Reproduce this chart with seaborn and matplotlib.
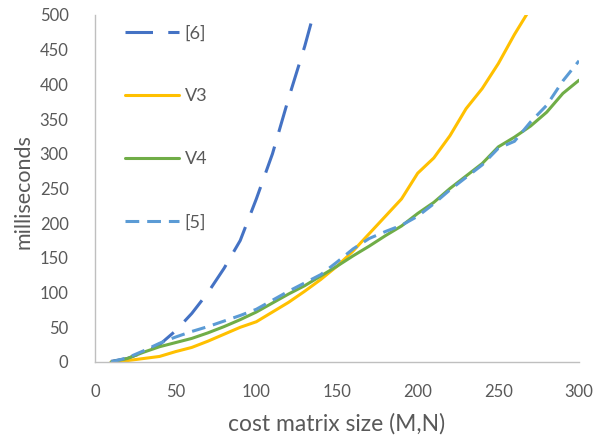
import matplotlib
matplotlib.use("Agg")
import matplotlib.pyplot as plt
import seaborn as sns
import pandas as pd

sizes = list(range(10, 310, 10))

ref6_x = [10, 20, 30, 40, 50, 60, 70, 80, 90, 100, 110, 120, 130, 140]
ref6_y = [1, 5, 14, 25, 45, 70, 100, 135, 175, 235, 300, 380, 455, 540]

v3_x = list(range(10, 280, 10))
v3_y = [0, 2, 5, 8, 15, 21, 30, 40, 50, 58, 72, 86, 102, 119, 138, 160, 185,
        210, 235, 272, 294, 326, 365, 394, 430, 472, 510]

v4_y = [0, 5, 14, 22, 28, 34, 42, 51, 61, 72, 85, 98, 110, 124, 138, 153, 167,
        182, 196, 214, 230, 250, 268, 286, 310, 324, 340, 360, 387, 406]

ref5_y = [0, 6, 16, 27, 36, 44, 51, 59, 67, 76, 89, 102, 114, 126, 144, 163, 178,
          188, 197, 210, 228, 248, 266, 284, 308, 318, 346, 370, 405, 434]

labels = ["[6]", "V3", "V4", "[5]"]
colors = ["#4472C4", "#FFC000", "#70AD47", "#5B9BD5"]

sns.set_style("white")
plt.rcParams["font.family"] = ["Lato", "DejaVu Sans"]

fig = plt.figure(figsize=(6.12, 4.37), dpi=100)
ax = fig.add_axes([95 / 612, 1 - 362 / 437, 484 / 612, 347 / 437])

lw = 2.2
series = [
    (ref6_x, ref6_y, labels[0], colors[0], (9, 5)),
    (v3_x, v3_y, labels[1], colors[1], None),
    (sizes, v4_y, labels[2], colors[2], None),
    (sizes, ref5_y, labels[3], colors[3], (4.5, 2.6)),
]
for xs, ys, lab, col, dash in series:
    df = pd.DataFrame({"x": xs, "y": ys})
    sns.lineplot(data=df, x="x", y="y", ax=ax, color=col, linewidth=lw, label=lab)
    if dash is not None:
        ax.lines[-1].set_dashes(dash)
        ax.lines[-1].set_dash_capstyle("butt")

ax.set_xlim(0, 300)
ax.set_ylim(0, 500)
ax.set_xticks(range(0, 301, 50))
ax.set_yticks(range(0, 501, 50))
ax.tick_params(axis="both", length=0, labelsize=12, labelcolor="#595959")
ax.tick_params(axis="x", pad=16)
ax.tick_params(axis="y", pad=19)
for s in ["top", "right"]:
    ax.spines[s].set_visible(False)
for s in ["left", "bottom"]:
    ax.spines[s].set_color("#BFBFBF")
    ax.spines[s].set_linewidth(1.0)

ax.set_xlabel("cost matrix size (M,N)", fontsize=16.5, color="#595959")
ax.set_ylabel("milliseconds", fontsize=15.5, color="#595959")
ax.xaxis.set_label_coords(0.5, (362 - 413) / 347)
ax.yaxis.set_label_coords((34 - 95) / 484, 0.49)

leg = ax.legend(loc="upper left", bbox_to_anchor=(0.036, 1.007), frameon=False,
                fontsize=13, labelspacing=2.6, handlelength=3.0,
                handletextpad=0.3, borderpad=0.2, labelcolor="#595959")

fig.savefig("out.png", dpi=100)
